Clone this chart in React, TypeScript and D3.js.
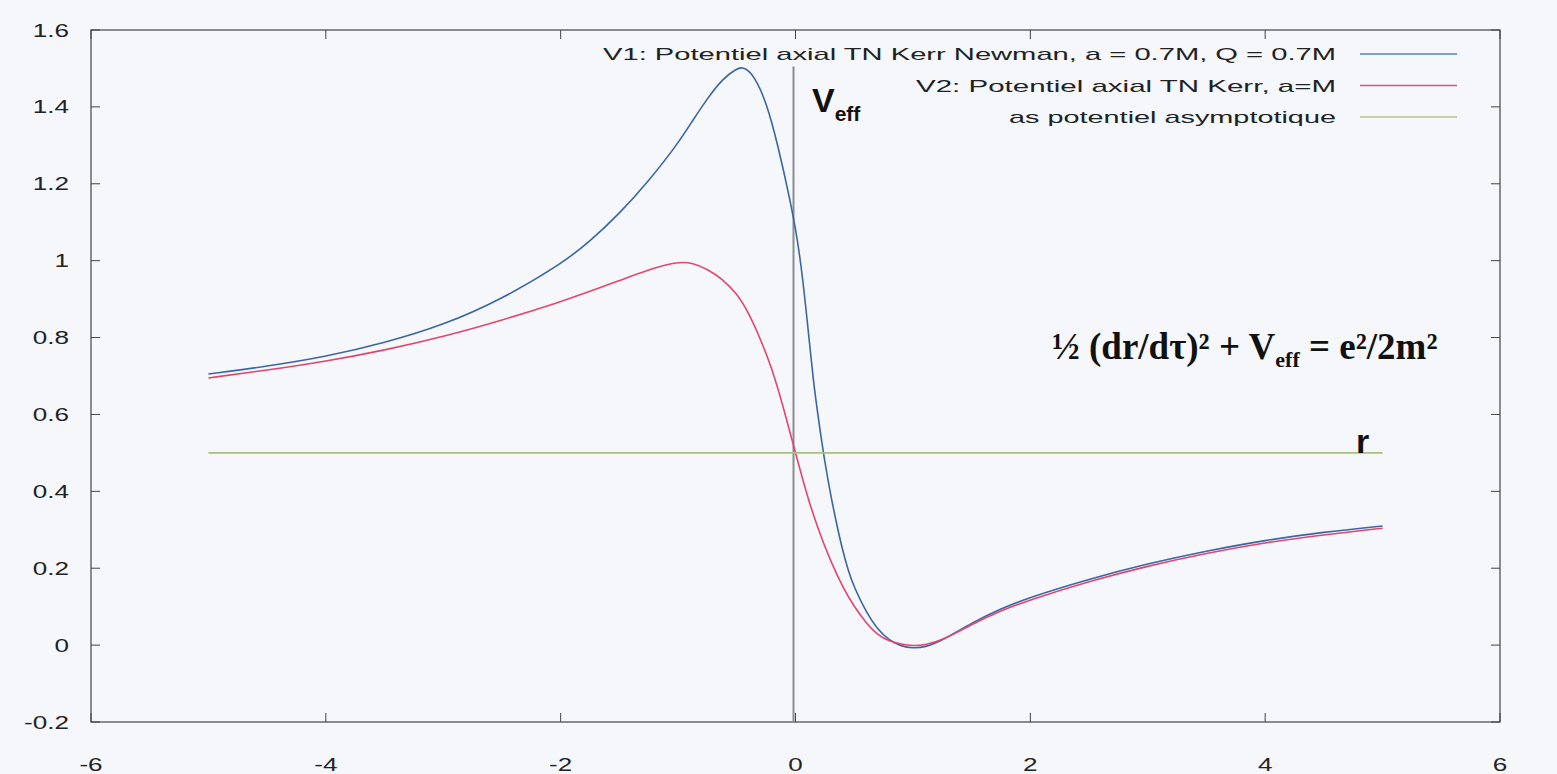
import React from 'react';
import * as d3 from 'd3';

// values
const v1X = [-5, -4.5, -4, -3.5, -3, -2.5, -2, -1.75, -1.5, -1.25, -1, -0.875, -0.75, -0.625, -0.5, -0.45, -0.4, -0.35, -0.3, -0.25, -0.2, -0.15, -0.1, -0.05, 0, 0.05, 0.1, 0.15, 0.2, 0.25, 0.3, 0.35, 0.4, 0.45, 0.5, 0.6, 0.7, 0.8, 0.9, 1.0, 1.1, 1.25, 1.5, 1.75, 2, 2.5, 3, 3.5, 4, 4.5, 5];
const v1Y = [0.705, 0.725, 0.75, 0.786, 0.832, 0.9, 0.99, 1.05, 1.122, 1.207, 1.305, 1.365, 1.422, 1.472, 1.5, 1.503, 1.495, 1.476, 1.447, 1.408, 1.358, 1.298, 1.232, 1.162, 1.085, 0.985, 0.845, 0.69, 0.578, 0.475, 0.39, 0.315, 0.248, 0.193, 0.15, 0.087, 0.04, 0.012, -0.003, -0.008, -0.006, 0.012, 0.058, 0.095, 0.125, 0.172, 0.212, 0.245, 0.273, 0.294, 0.31];

const v2X = [-5, -4.5, -4, -3.5, -3, -2.5, -2, -1.75, -1.5, -1.25, -1, -0.875, -0.75, -0.625, -0.5, -0.4, -0.3, -0.2, -0.1, 0, 0.1, 0.2, 0.3, 0.4, 0.5, 0.6, 0.7, 0.8, 0.9, 1.0, 1.1, 1.25, 1.5, 1.75, 2, 2.5, 3, 3.5, 4, 4.5, 5];
const v2Y = [0.695, 0.715, 0.738, 0.767, 0.802, 0.845, 0.893, 0.92, 0.948, 0.977, 0.998, 0.994, 0.978, 0.953, 0.915, 0.865, 0.797, 0.72, 0.615, 0.5, 0.387, 0.295, 0.218, 0.152, 0.1, 0.058, 0.026, 0.01, 0.002, -0.002, 0.0, 0.012, 0.054, 0.09, 0.118, 0.166, 0.206, 0.239, 0.267, 0.287, 0.304];

const asymX = [-5, 5];
const asymY = [0.5, 0.5];

const xTicks = [-6, -4, -2, 0, 2, 4, 6];
const yTicks = [-0.2, 0, 0.2, 0.4, 0.6, 0.8, 1, 1.2, 1.4, 1.6];

const legendLabels = [
  'V1: Potentiel axial TN Kerr Newman, a = 0.7M, Q = 0.7M',
  'V2: Potentiel axial TN Kerr, a=M',
  'as potentiel asymptotique',
];

const W = 1557, H = 774;
const SANS = '"Liberation Sans", Arial, sans-serif';
const SERIF = '"Liberation Serif", "Times New Roman", serif';

export default function App() {
  const x = d3.scaleLinear().domain([-6, 6]).range([91, 1500]);
  const y = d3.scaleLinear().domain([-0.2, 1.6]).range([722, 30]);

  // b-spline smooths the hand-read points a little
  const line = d3
    .line<[number, number]>()
    .x(d => x(d[0]))
    .y(d => y(d[1]))
    .curve(d3.curveBasis);

  const series = [
    { xs: v1X, ys: v1Y, color: '#3b66a4', legend: '#4d86c8', len: 733, x0: 603 },
    { xs: v2X, ys: v2Y, color: '#e2466f', legend: '#e4527a', len: 420, x0: 916 },
    { xs: asymX, ys: asymY, color: '#a9c083', legend: '#b2c88e', len: 327, x0: 1009 },
  ];

  const fmt = (v: number) => String(+v.toFixed(1));
  const sx = 1.45; // the scan is stretched sideways
  const tick = 9;

  return (
    <svg width={W} height={H} style={{ position: 'absolute', left: 0, top: 0, background: '#f5f7fb' }}>
      <rect width={W} height={H} fill="#f5f7fb" />

      {/* frame */}
      <rect x={x(-6)} y={y(1.6)} width={x(6) - x(-6)} height={y(-0.2) - y(1.6)} fill="none" stroke="#444" strokeWidth={1.2} />

      {/* ticks, mirrored, pointing inward */}
      {yTicks.map(t => (
        <g key={'yt' + t}>
          <line x1={x(-6)} x2={x(-6) + tick} y1={y(t)} y2={y(t)} stroke="#444" />
          <line x1={x(6)} x2={x(6) - tick} y1={y(t)} y2={y(t)} stroke="#444" />
          <text transform={`translate(69,${y(t) + 6.5}) scale(${sx},1)`} textAnchor="end" fontFamily={SANS} fontSize={18} fill="#222">
            {fmt(t)}
          </text>
        </g>
      ))}
      {xTicks.map(t => (
        <g key={'xt' + t}>
          <line x1={x(t)} x2={x(t)} y1={y(-0.2)} y2={y(-0.2) - tick} stroke="#444" />
          <line x1={x(t)} x2={x(t)} y1={y(1.6)} y2={y(1.6) + tick} stroke="#444" />
          <text transform={`translate(${x(t)},771) scale(${sx},1)`} textAnchor="middle" fontFamily={SANS} fontSize={18} fill="#222">
            {fmt(t)}
          </text>
        </g>
      ))}

      {/* vertical r = 0 line */}
      <line x1={x(0) - 2} x2={x(0) - 2} y1={y(1.505)} y2={y(-0.2)} stroke="#8c8c8c" strokeWidth={2} />

      {/* curves */}
      {series.map((s, i) => (
        <path
          key={'s' + i}
          d={line(s.xs.map((v, j) => [v, s.ys[j]] as [number, number])) || ''}
          fill="none"
          stroke={s.color}
          strokeWidth={1.6}
        />
      ))}

      {/* legend */}
      {series.map((s, i) => {
        const ly = 54 + i * 31.5;
        return (
          <g key={'lg' + i}>
            <text x={s.x0} y={ly + 6} textLength={s.len} lengthAdjust="spacingAndGlyphs" fontFamily={SANS} fontSize={17} fill="#222">
              {legendLabels[i]}
            </text>
            <line x1={1360} x2={1457} y1={ly} y2={ly} stroke={s.legend} strokeWidth={1.6} />
          </g>
        );
      })}

      {/* annotations */}
      <text x={812} y={112} fontFamily={SANS} fontWeight="bold" fontSize={34} fill="#111">
        V<tspan fontSize={21} dy={9}>eff</tspan>
      </text>
      <text x={1052} y={359} fontFamily={SERIF} fontWeight="bold" fontSize={37} fill="#111">
        ½ (dr/dτ)² + V<tspan fontSize={22} dy={8}>eff</tspan>
        <tspan dy={-8}> = e²/2m²</tspan>
      </text>
      <text x={1356} y={453} fontFamily={SANS} fontWeight="bold" fontSize={34} fill="#111">
        r
      </text>
    </svg>
  );
}
